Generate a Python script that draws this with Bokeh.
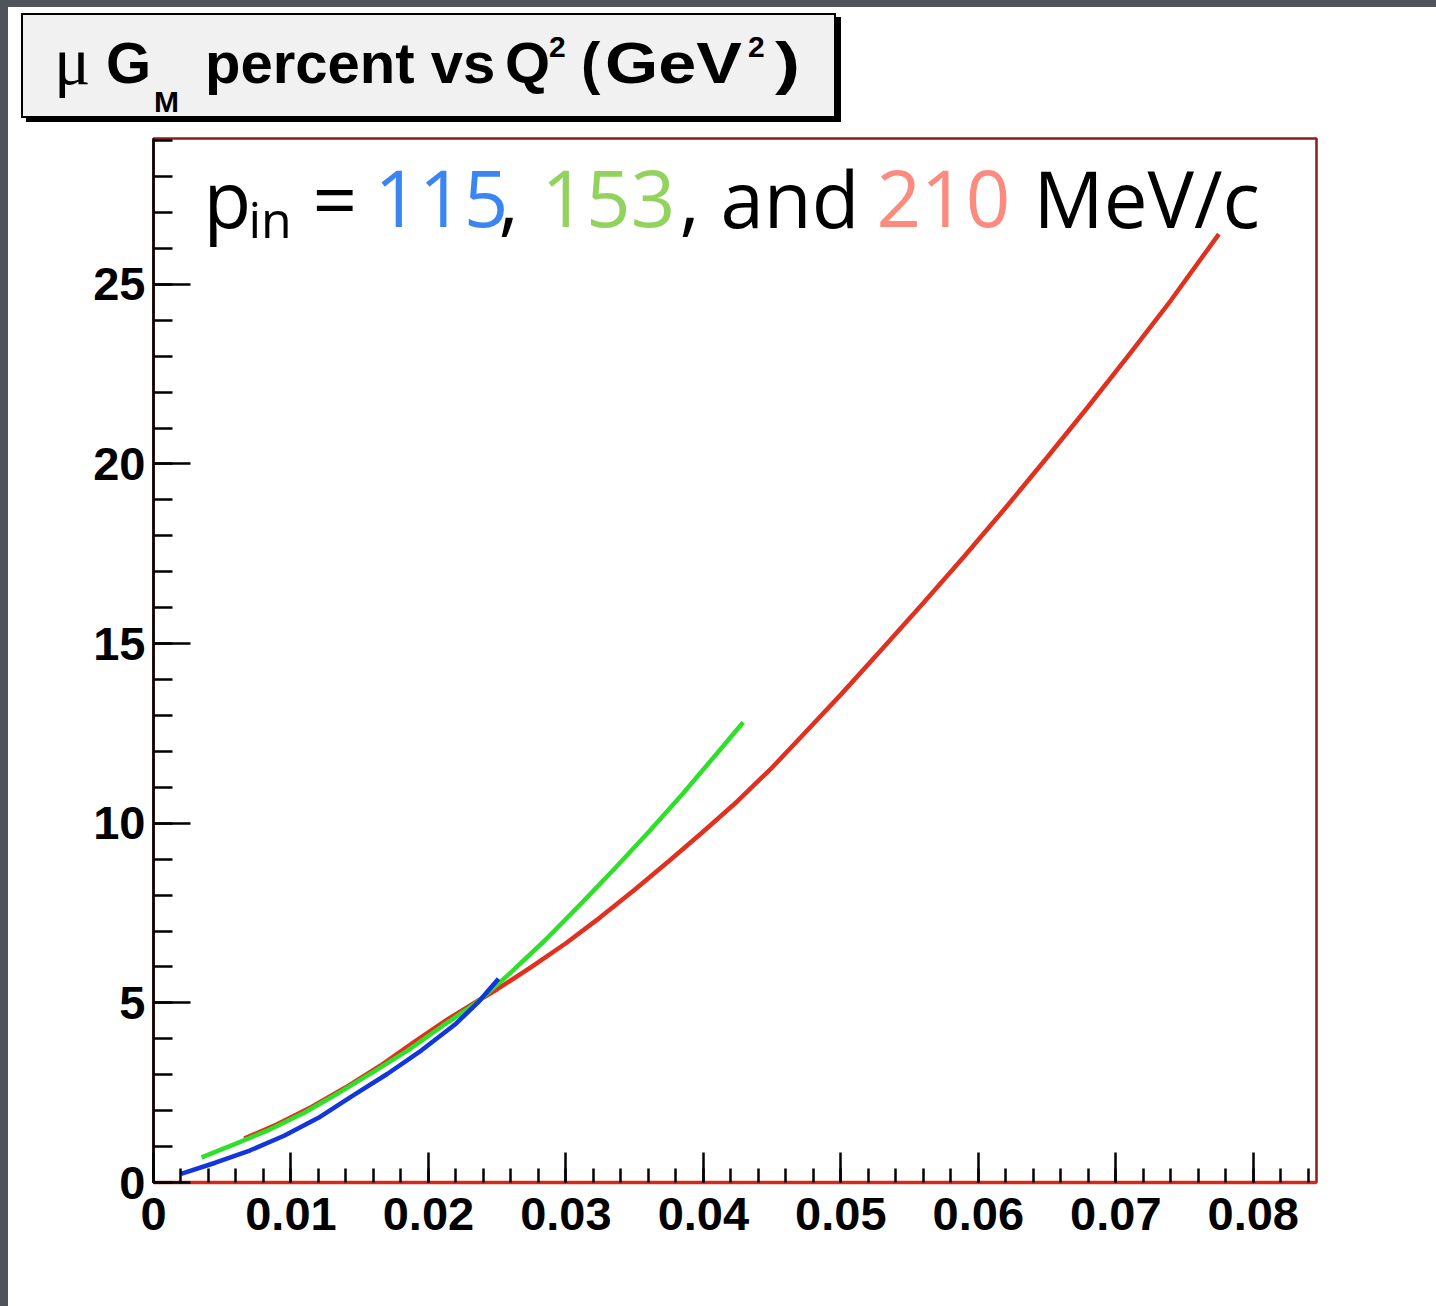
from bokeh.plotting import figure
from bokeh.layouts import row, column
from bokeh.models import Range1d, SingleIntervalTicker, NumeralTickFormatter, Div
from bokeh.core.properties import value
from bokeh.embed import file_html
from bokeh.resources import INLINE

# Q^2 (GeV^2) and percent change of mu*G_M for three beam momenta
q2_115 = [0.0020, 0.0045, 0.0070, 0.0095, 0.0120, 0.0145, 0.0170, 0.0195, 0.0220, 0.0237, 0.0251]
pct_115 = [0.24, 0.55, 0.89, 1.30, 1.80, 2.42, 3.02, 3.68, 4.42, 5.05, 5.67]

q2_153 = [0.0035, 0.0060, 0.0085, 0.0110, 0.0135, 0.0160, 0.0185, 0.0210, 0.0235, 0.0260,
          0.0285, 0.0310, 0.0335, 0.0360, 0.0385, 0.0410, 0.0429]
pct_153 = [0.70, 1.08, 1.48, 1.95, 2.50, 3.08, 3.68, 4.35, 5.00, 5.85,
           6.75, 7.72, 8.72, 9.75, 10.82, 11.95, 12.81]

q2_210 = [0.0066, 0.0090, 0.0115, 0.0140, 0.0165, 0.0190, 0.0215, 0.0240, 0.0250, 0.0275,
          0.0300, 0.0325, 0.0350, 0.0375, 0.0400, 0.0425, 0.0450, 0.0471, 0.0500, 0.0530,
          0.0560, 0.0590, 0.0620, 0.0650, 0.0680, 0.0710, 0.0740, 0.0775]
pct_210 = [1.22, 1.62, 2.10, 2.65, 3.25, 3.92, 4.57, 5.15, 5.38, 6.00,
           6.66, 7.38, 8.15, 8.95, 9.77, 10.62, 11.55, 12.40, 13.58, 14.85,
           16.13, 17.44, 18.79, 20.18, 21.60, 23.06, 24.55, 26.40]

x_ticks_major = 0.01
y_ticks_major = 5

X_MAX, Y_MAX = 0.0846, 29.06
PAGE_W, PAGE_H = 1436, 1306
EDGE = 8          # dark slide edge on the left
TOP_H = 130       # height of the title strip
FRAME_L, FRAME_R, FRAME_T, FRAME_B = 153, 1316, 138, 1182

SLATE = "#50535b"
RED, GREEN, BLUE = "#e0301e", "#2fe02a", "#1235dc"


def to_data(px, py):
    """Page pixel position -> data coordinates of the plot."""
    return ((px - FRAME_L) / (FRAME_R - FRAME_L) * X_MAX,
            (FRAME_B - py) / (FRAME_B - FRAME_T) * Y_MAX)


# ---- title strip: boxed heading with sub/superscripts
SANS_ASC, SERIF_ASC = 0.8465, 0.8375   # baseline offset for line-height 1


def span(txt, left, baseline, size, family, weight, asc, stretch=1.0):
    top = baseline - asc * size
    return (f'<span style="position:absolute;left:{left - EDGE}px;top:{top:.1f}px;'
            f'font-family:\'{family}\';font-weight:{weight};font-size:{size}px;'
            f'line-height:1;white-space:nowrap;color:black;'
            f'transform:scaleX({stretch});transform-origin:left;">{txt}</span>')


title_parts = [
    ("\u03bc", 54, 84, 68, "Liberation Serif", "normal", SERIF_ASC),
    ("G", 106, 83, 58, "Liberation Sans", "bold", SANS_ASC),
    ("M", 154, 112, 30, "Liberation Sans", "bold", SANS_ASC),
    ("percent vs", 205, 83, 58, "Liberation Sans", "bold", SANS_ASC),
    ("Q", 505, 83, 58, "Liberation Sans", "bold", SANS_ASC),
    ("2", 549, 57, 30, "Liberation Sans", "bold", SANS_ASC),
    ("(", 581, 83, 58, "Liberation Sans", "bold", SANS_ASC),
    ("GeV", 605, 83, 58, "Liberation Sans", "bold", SANS_ASC, 1.18),
    ("2", 748, 57, 30, "Liberation Sans", "bold", SANS_ASC),
    (")", 775, 83, 58, "Liberation Sans", "bold", SANS_ASC, 1.3),
]

html = [f'<div style="position:relative;width:{PAGE_W - EDGE}px;height:{TOP_H}px;'
        f'background:white;overflow:hidden;">',
        f'<div style="position:absolute;left:0;top:0;width:{PAGE_W - EDGE}px;height:7px;'
        f'background:{SLATE};"></div>',
        f'<div style="position:absolute;left:{21 - EDGE}px;top:13px;width:815px;height:105px;'
        f'box-sizing:border-box;background:#f1f1f1;border:2.5px solid black;'
        f'box-shadow:5px 4px 0 black;"></div>']
html += [span(*part) for part in title_parts]
html.append('</div>')
title_div = Div(text="".join(html), width=PAGE_W - EDGE, height=TOP_H, margin=0)

edge_div = Div(text="", width=EDGE, height=PAGE_H, margin=0,
               styles={"background-color": SLATE})

# ---- main plot
p = figure(width=PAGE_W - EDGE, height=PAGE_H - TOP_H, output_backend="svg",
           toolbar_location=None, title=None,
           x_range=Range1d(0, X_MAX), y_range=Range1d(0, Y_MAX),
           min_border_left=FRAME_L - EDGE, min_border_right=PAGE_W - FRAME_R,
           min_border_top=FRAME_T - TOP_H, min_border_bottom=PAGE_H - FRAME_B)
p.grid.visible = False
p.background_fill_color = "white"
p.border_fill_color = "white"
p.outline_line_color = "#8c1d1d"
p.outline_line_width = 2.5

p.xaxis.ticker = SingleIntervalTicker(interval=x_ticks_major, num_minor_ticks=5)
p.yaxis.ticker = SingleIntervalTicker(interval=y_ticks_major, num_minor_ticks=5)
p.xaxis.formatter = NumeralTickFormatter(format="0.[00]")

for ax in (p.xaxis, p.yaxis):
    ax.major_tick_out = 0
    ax.minor_tick_out = 0
    ax.major_tick_line_color = "black"
    ax.minor_tick_line_color = "black"
    ax.major_tick_line_width = 2.5
    ax.minor_tick_line_width = 2.5
    ax.major_label_text_font = "Liberation Sans"
    ax.major_label_text_font_style = "bold"
    ax.major_label_text_font_size = "47px"
    ax.major_label_text_color = "black"

p.xaxis.major_tick_in = 30
p.xaxis.minor_tick_in = 14
p.xaxis.axis_line_color = "#d42a1c"
p.xaxis.axis_line_width = 3.5
p.xaxis.major_label_standoff = 15

p.yaxis.major_tick_in = 37
p.yaxis.minor_tick_in = 19
p.yaxis.axis_line_color = "black"
p.yaxis.axis_line_width = 2.5
p.yaxis.major_label_standoff = 8

p.line(q2_210, pct_210, line_color=RED, line_width=4.5)
p.line(q2_153, pct_153, line_color=GREEN, line_width=4.5)
p.line(q2_115, pct_115, line_color=BLUE, line_width=4.5)

# beam-momentum note; the baseline is lifted to compensate text-box metrics
note_parts = [
    ("p", 203, 228, 78, "black"),
    ("in", 248, 238, 50, "black"),
    ("=", 312, 228, 78, "black"),
    ("115", 374, 228, 78, "#3b85f3"),
    (",", 498, 228, 78, "black"),
    ("153", 541, 228, 78, "#92d35e"),
    (",", 679, 228, 78, "black"),
    ("and", 720, 228, 78, "black"),
    ("210", 876, 228, 78, "#fb8b7f"),
    ("MeV/c", 1033, 228, 78, "black"),
]
for txt, px, py, size, color in note_parts:
    x, y = to_data(px, py - 0.39 * size)
    p.text(x=[x], y=[y], text=[txt], text_font=value("Open Sans"),
           text_font_size=f"{size}px", text_align="left", text_baseline="alphabetic",
           text_color=color)

layout = row(edge_div, column(title_div, p, spacing=0), spacing=0)
open("out.html", "w").write(file_html(layout, INLINE))
